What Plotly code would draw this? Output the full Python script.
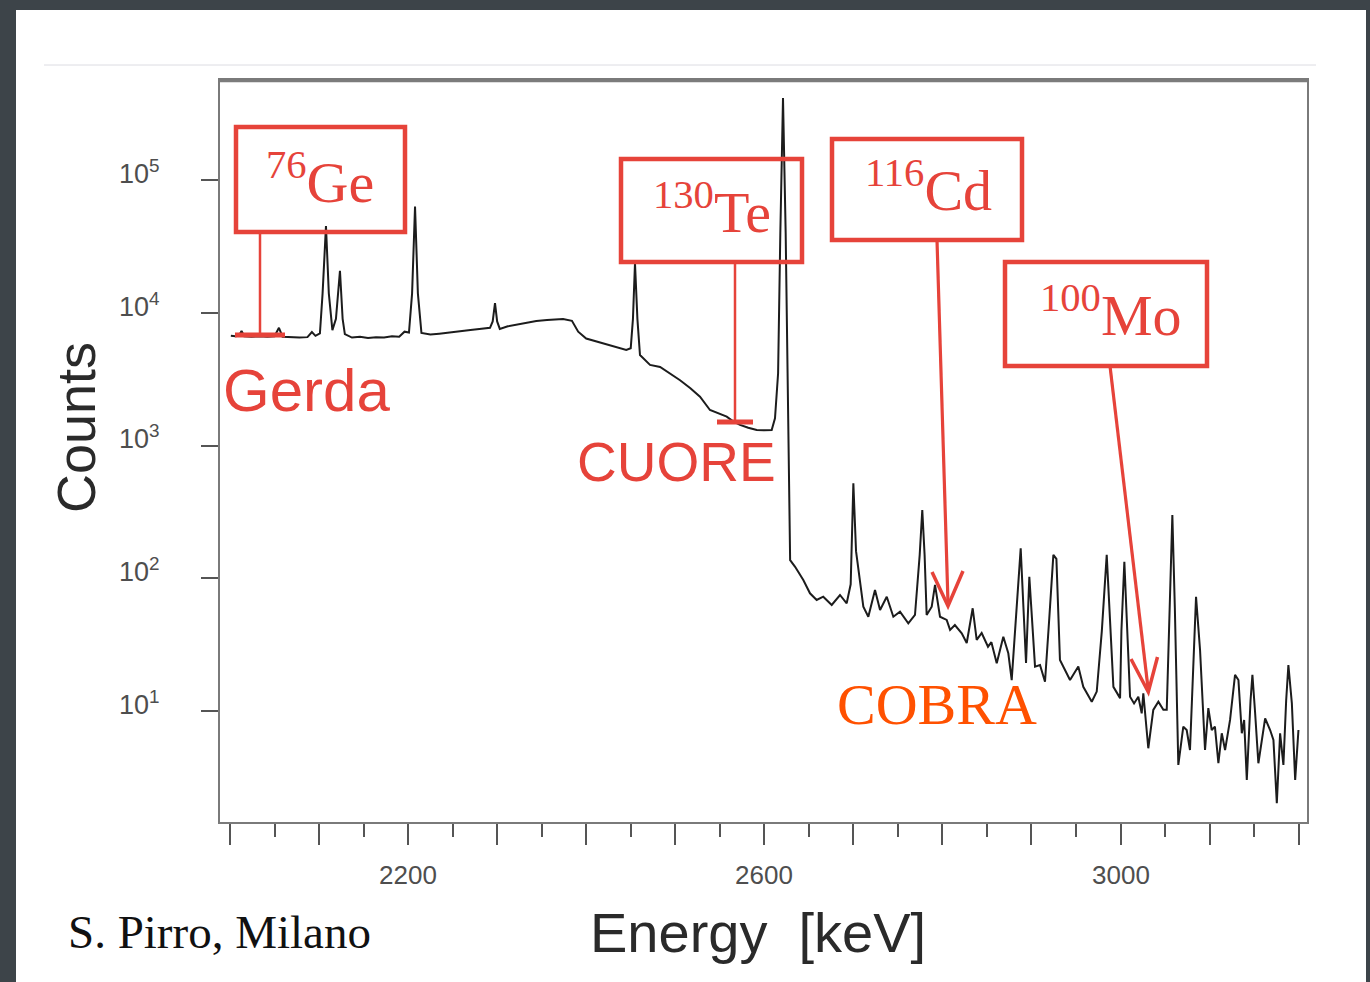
import plotly.graph_objects as go

# ---- spectrum (energy in keV, counts per bin) ----
energy = [
    2001, 2006, 2010, 2013, 2016, 2024, 2033, 2042, 2050, 2055, 2059, 2068, 2078, 2087, 2092, 2096,
    2101, 2104, 2107.8, 2111, 2115, 2119, 2123.5, 2126.5, 2129, 2137, 2146, 2155, 2164, 2173, 2182,
    2190, 2196, 2201, 2204.5, 2207.8, 2211, 2215, 2225, 2235, 2245, 2255, 2262, 2270, 2280, 2292,
    2295, 2297.6, 2300, 2303, 2312, 2322, 2333, 2344, 2356, 2365, 2374, 2384, 2391, 2400, 2411,
    2423, 2434, 2445, 2450, 2452.5, 2454.8, 2457.5, 2460.4, 2471.7, 2483, 2494, 2505.4, 2517,
    2527.8, 2539, 2548, 2557.8, 2565, 2572.7, 2582, 2591.5, 2600, 2608.3, 2612, 2615.5, 2618,
    2621, 2624, 2626.5, 2629, 2634.6, 2643.8, 2651.3, 2658.8, 2666.2, 2675.7, 2685, 2692.5, 2697,
    2700, 2703, 2705.6, 2711.2, 2716.8, 2724.3, 2730, 2737.5, 2744.9, 2752.4, 2761.7, 2769.2,
    2774.5, 2777.4, 2780, 2782.3, 2788, 2791.7, 2797.3, 2804.8, 2808.6, 2814, 2821.7, 2827.3,
    2834, 2838.5, 2844.1, 2851.2, 2855, 2861, 2868.4, 2874, 2877.8, 2884, 2887.9, 2891, 2893.9,
    2897.6, 2901, 2904, 2909.6, 2915.2, 2920, 2924.6, 2928, 2932, 2943.3, 2952.6, 2958.2, 2967.7,
    2973.3, 2979, 2984.5, 2988, 2992, 2999.5, 3001, 3004.3, 3007.5, 3010.7, 3015.2, 3020, 3023.8,
    3025.6, 3031.2, 3036.8, 3042.5, 3048.1, 3051.9, 3055.5, 3058.2, 3061, 3064.9, 3070.5, 3074.3,
    3078, 3081.5, 3084.8, 3089.3, 3094.9, 3098.6, 3102.4, 3106, 3109.9, 3113.7, 3117.4, 3123,
    3128.6, 3132.4, 3136.2, 3138.8, 3141.8, 3146, 3148.1, 3151, 3154.8, 3162.4, 3168, 3171.7,
    3175.5, 3179.2, 3182.9, 3186, 3188.5, 3192.4, 3196.1, 3199.8,
]
counts = [
    6700, 6650, 6700, 7300, 6650, 6600, 6650, 6600, 6650, 7700, 6600, 6550, 6500, 6550, 7150, 6700,
    7000, 14000, 45000, 14000, 7400, 9000, 20700, 9000, 6900, 6500, 6600, 6450, 6550, 6500, 6650,
    6600, 7200, 7100, 14000, 63000, 14000, 7050, 6850, 6950, 7050, 7150, 7300, 7400, 7550, 7700,
    8600, 11800, 8600, 7550, 7900, 8150, 8450, 8650, 8800, 8900, 8970, 8700, 7200, 6400, 6100,
    5800, 5500, 5250, 5400, 9000, 23600, 9000, 4800, 4050, 3900, 3500, 3100, 2700,
    2330, 1850, 1750, 1650, 1520, 1430, 1360, 1310, 1300, 1310, 1600, 3500, 40000,
    415000, 40000, 3000, 137, 122, 97, 77, 68.6, 72.6, 62.9, 74.8, 64.8, 90,
    519, 160, 115, 61, 51.3, 81.5, 57.7, 72.6, 51.3, 56, 45.8, 52.9,
    150, 327, 150, 52.9, 61, 89, 51.3, 48.5, 40.8, 44.4, 38.5, 32.5,
    59.4, 34.3, 38.7, 30.5, 33, 22.9, 36.3, 27.2, 17.1, 70, 168, 60, 23,
    102.7, 40, 21.6, 22.2, 16.6, 50, 150, 140, 24.2, 17.1, 21.6, 15.2, 11.75,
    14, 40, 150, 50, 15.2, 12.5, 40, 133, 40, 12.8, 11.4, 12.8, 9.6,
    13.6, 5.24, 10.2, 11.75, 10.2, 10.2, 60, 300, 60, 3.92, 7.62, 7.19,
    5.08, 20, 72.6, 28.8, 5.08, 10.5, 7.19, 7.62, 4.04, 6.79, 5.08, 8.56,
    18.7, 17.1, 6.79, 8.56, 3.02, 12, 18.7, 10, 4.04, 8.81, 7.19, 6.05,
    2.02, 6.79, 3.92, 12, 22.2, 11.4, 3.02, 7.19,
]

# ---- axis ticks ----
x_major = list(range(2000, 3201, 100))
x_minor = list(range(2050, 3200, 100))
x_label_vals = [2200, 2600, 3000]
x_label_text = ["2200", "2600", "3000"]
y_ticks = [10, 100, 1000, 10000, 100000]
y_exponents = [1, 2, 3, 4, 5]

W, H = 1370, 982
RED = "#e6433a"
ORANGE = "#ff5100"
TICK_GRAY = "#4e4e4e"
SANS = "Liberation Sans Narrow, Liberation Sans, Arial, sans-serif"
HELV = "Liberation Sans, Arial, sans-serif"
SERIF = "Liberation Serif, Times New Roman, serif"


def X(px):
    return px / W


def Y(py):
    return 1 - py / H


fig = go.Figure()
fig.add_trace(go.Scatter(
    x=energy, y=counts, mode="lines",
    line=dict(color="#1c1c1c", width=2),
    hoverinfo="skip", showlegend=False,
))

shapes = [
    # white slide panel and the thin rule under the title area
    dict(type="rect", xref="paper", yref="paper", x0=X(16), x1=X(1366), y0=0, y1=Y(10),
         fillcolor="white", line=dict(width=0), layer="below"),
    dict(type="line", xref="paper", yref="paper", x0=X(44), x1=X(1316), y0=Y(65), y1=Y(65),
         line=dict(color="#dcdce2", width=1), layer="below"),
    # slightly heavier top edge of the plot frame
    dict(type="line", xref="paper", yref="paper", x0=X(220), x1=X(1307), y0=Y(81), y1=Y(81),
         line=dict(color="#7c7c7c", width=2.5)),
]


def box(x0, y0, x1, y1):
    shapes.append(dict(type="rect", xref="paper", yref="paper",
                       x0=X(x0), x1=X(x1), y0=Y(y1), y1=Y(y0),
                       line=dict(color=RED, width=4.5), fillcolor="rgba(0,0,0,0)"))


def seg(x0, y0, x1, y1, w=2.5):
    shapes.append(dict(type="line", xref="paper", yref="paper",
                       x0=X(x0), x1=X(x1), y0=Y(y0), y1=Y(y1),
                       line=dict(color=RED, width=w)))


def chevron(pts, w=3.5):
    path = "M " + " L ".join(f"{X(a)},{Y(b)}" for a, b in pts)
    shapes.append(dict(type="path", xref="paper", yref="paper", path=path,
                       line=dict(color=RED, width=w)))


# 76Ge / Gerda
box(236, 127, 405, 232)
seg(260, 232, 260, 335)
seg(235, 335, 285, 335, w=5)
# 130Te / CUORE
box(621, 159, 802, 262)
seg(735, 262, 735, 422)
seg(717, 422, 753, 422, w=5)
# 116Cd arrow
box(832, 139, 1022, 240)
seg(937, 240, 948, 603, w=3.2)
chevron([(932, 572), (948, 606), (963, 571)])
# 100Mo arrow
box(1005, 262, 1207, 366)
seg(1110, 366, 1148, 688, w=3.2)
chevron([(1131, 659), (1148.3, 692), (1157.5, 657)])

annotations = []


def label(txt, x, y, size, color, family, xanchor="center", yanchor="middle", angle=0):
    annotations.append(dict(text=txt, x=X(x), y=Y(y), xref="paper", yref="paper",
                            xanchor=xanchor, yanchor=yanchor, showarrow=False, textangle=angle,
                            font=dict(size=size, color=color, family=family)))


label("<sup>76</sup>Ge", 320, 178, 58, RED, SERIF)
label("<sup>130</sup>Te", 712, 208, 58, RED, SERIF)
label("<sup>116</sup>Cd", 928, 187, 58, RED, SERIF)
label("<sup>100</sup>Mo", 1110, 312, 58, RED, SERIF)
label("Gerda", 221, 390, 60, RED, HELV, xanchor="left")
label("CUORE", 575, 462, 55, RED, HELV, xanchor="left")
label("COBRA", 835, 704, 58, ORANGE, SERIF, xanchor="left")
label("Counts", 76, 428, 54, "#2a2a2a", HELV, angle=-90)
label("Energy  [keV]", 758, 932, 56, "#2a2a2a", HELV)
label("S. Pirro, Milano", 66, 932, 47, "#111111", SERIF, xanchor="left")

# tick labels
for v, t in zip(x_label_vals, x_label_text):
    annotations.append(dict(text=t, x=v, xref="x", y=Y(875), yref="paper",
                            xanchor="center", yanchor="middle", showarrow=False,
                            font=dict(size=26, color=TICK_GRAY, family=SANS)))
for e in y_exponents:
    annotations.append(dict(text=f"10<sup>{e}</sup>", x=X(162), xref="paper", y=e, yref="y",
                            xanchor="right", yanchor="middle", yshift=8, showarrow=False,
                            font=dict(size=27, color=TICK_GRAY, family=SANS)))

fig.update_layout(
    width=W, height=H,
    margin=dict(l=0, r=0, t=0, b=0),
    font=dict(family=HELV, size=20, color="#2a2a2a"),
    paper_bgcolor="#3d4449",
    plot_bgcolor="white",
    shapes=shapes,
    annotations=annotations,
    xaxis=dict(
        domain=[X(220), X(1307)], range=[1988.8, 3209.4],
        showline=True, linecolor="#7a7a7a", linewidth=2, mirror=True,
        ticks="outside", ticklen=21, tickwidth=2, tickcolor="#555555",
        tickmode="array", tickvals=x_major, showticklabels=False,
        minor=dict(tickmode="array", tickvals=x_minor, ticklen=13, tickwidth=2,
                   tickcolor="#555555", showgrid=False),
        showgrid=False, zeroline=False,
    ),
    yaxis=dict(
        type="log", domain=[Y(822), Y(80)], range=[0.1638, 5.7533],
        showline=True, linecolor="#7a7a7a", linewidth=2, mirror=True,
        ticks="outside", ticklen=17, tickwidth=2, tickcolor="#555555",
        tickmode="array", tickvals=y_ticks, showticklabels=False,
        showgrid=False, zeroline=False,
    ),
)

fig.write_html("out.html")
